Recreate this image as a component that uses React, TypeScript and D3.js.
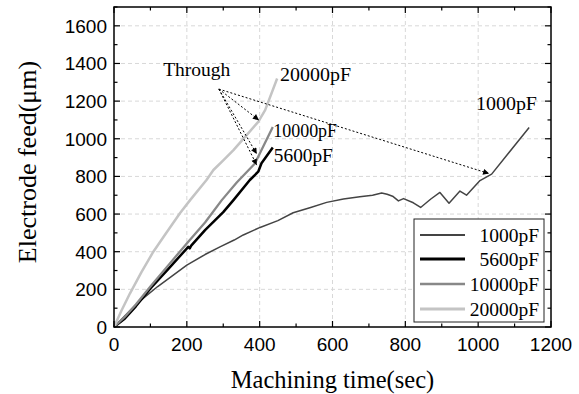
import React from "react";
import * as d3 from "d3";

const W = 579;
const H = 394;

// Data
const series1000: [number, number][] = [
  [0, 0], [20, 40], [40, 80], [60, 118], [80, 152], [120, 215], [160, 272], [200, 329],
  [250, 385], [291, 426], [330, 462], [355, 489], [401, 529], [450, 565], [492, 607],
  [540, 635], [584, 662], [630, 680], [675, 692], [710, 700], [735, 712], [750, 705],
  [765, 695], [781, 670], [795, 682], [822, 660], [842, 635], [870, 680], [895, 715],
  [920, 658], [950, 722], [968, 700], [1005, 778], [1037, 812], [1140, 1060],
];
const series5600: [number, number][] = [
  [0, 0], [30, 45], [60, 110], [100, 205], [150, 310], [204, 426], [208, 418], [212, 432],
  [250, 515], [300, 610], [328, 674], [373, 781], [396, 825], [405, 870], [436, 954],
];
const series10000: [number, number][] = [
  [0, 0], [30, 55], [60, 120], [100, 215], [150, 330], [204, 453], [250, 555], [296, 674],
  [337, 768], [387, 869], [400, 920], [436, 1062],
];
const series20000: [number, number][] = [
  [0, 0], [20, 85], [44, 179], [75, 290], [108, 400], [140, 490], [181, 604], [209, 674],
  [254, 781], [273, 834], [300, 885], [328, 940], [360, 1010], [396, 1090], [415, 1152],
  [448, 1320],
];

const legendLabels = ["1000pF", "5600pF", "10000pF", "20000pF"];
const xTicks = [0, 200, 400, 600, 800, 1000, 1200];
const yTicks = [0, 200, 400, 600, 800, 1000, 1200, 1400, 1600];
const xMinor = d3.range(0, 1201, 100);
const yMinor = d3.range(0, 1701, 100);

// Annotation anchors in data units
const throughOrigin: [number, number] = [288, 1264];
const arrowTips: [number, number][] = [[398, 1099], [392, 919], [392, 860], [1030, 815]];
const curveLabels: { text: string; x: number; y: number; len: number }[] = [
  { text: "20000pF", x: 456, y: 1306, len: 71 },
  { text: "10000pF", x: 437, y: 1009, len: 64 },
  { text: "5600pF", x: 439, y: 876, len: 59 },
  { text: "1000pF", x: 994, y: 1152, len: 61 },
];

const styles = [
  { color: "#444444", width: 1.5 },
  { color: "#000000", width: 2.5 },
  { color: "#888888", width: 2.3 },
  { color: "#c4c4c4", width: 2.5 },
];

export default function App() {
  const left = 114, right = 551, top = 7, bottom = 327;
  const x = d3.scaleLinear().domain([0, 1200]).range([left, right]);
  const y = d3.scaleLinear().domain([0, 1700]).range([bottom, top]);
  const line = d3.line<[number, number]>().x((d) => x(d[0])).y((d) => y(d[1]));
  const all = [series1000, series5600, series10000, series20000];

  const serif = "'Liberation Serif', 'Times New Roman', serif";
  const sans = "'Liberation Sans', Arial, sans-serif";

  const legRows = [235, 259, 284, 309];

  return (
    <div style={{ position: "fixed", left: 0, top: 0 }}>
      <svg width={W} height={H} style={{ display: "block", background: "#fff" }}>
        <defs>
          <marker id="ah" viewBox="0 0 10 10" refX="10" refY="5" markerWidth="9" markerHeight="6"
            markerUnits="userSpaceOnUse" orient="auto">
            <path d="M0,0 L10,5 L0,10 z" fill="#000" />
          </marker>
        </defs>
        <rect x={0} y={0} width={W} height={H} fill="#fff" />
        {/* grid */}
        {xTicks.filter((t) => t > 0 && t < 1200).map((t) => (
          <line key={"gx" + t} x1={x(t)} x2={x(t)} y1={top} y2={bottom} stroke="#d8d8d8" strokeWidth={1} strokeDasharray="4,3" />
        ))}
        {yTicks.filter((t) => t > 0).map((t) => (
          <line key={"gy" + t} x1={left} x2={right} y1={y(t)} y2={y(t)} stroke="#d8d8d8" strokeWidth={1} strokeDasharray="4,3" />
        ))}
        {/* curves */}
        {all.map((s, i) => (
          <path key={"s" + i} d={line(s) || ""} fill="none" stroke={styles[i].color} strokeWidth={styles[i].width} strokeLinejoin="round" />
        ))}
        {/* arrows */}
        {arrowTips.map((t, i) => (
          <line key={"ar" + i} x1={x(throughOrigin[0])} y1={y(throughOrigin[1])} x2={x(t[0])} y2={y(t[1])}
            stroke="#000" strokeWidth={1} strokeDasharray="2,2" markerEnd="url(#ah)" />
        ))}
        {/* frame */}
        <rect x={left} y={top} width={right - left} height={bottom - top} fill="none" stroke="#000" strokeWidth={1.5} />
        {/* ticks */}
        {xMinor.map((t) => {
          const major = t % 200 === 0;
          const len = major ? 6 : 3.5;
          return (
            <g key={"xt" + t}>
              <line x1={x(t)} x2={x(t)} y1={bottom} y2={bottom - len} stroke="#000" strokeWidth={1.2} />
              <line x1={x(t)} x2={x(t)} y1={top} y2={top + len} stroke="#000" strokeWidth={1.2} />
            </g>
          );
        })}
        {yMinor.map((t) => {
          const major = t % 200 === 0;
          const len = major ? 6 : 3.5;
          return (
            <g key={"yt" + t}>
              <line x1={left} x2={left + len} y1={y(t)} y2={y(t)} stroke="#000" strokeWidth={1.2} />
              <line x1={right} x2={right - len} y1={y(t)} y2={y(t)} stroke="#000" strokeWidth={1.2} />
            </g>
          );
        })}
        {/* tick labels */}
        {xTicks.map((t) => (
          <text key={"xl" + t} x={x(t)} y={bottom + 24} textAnchor="middle" fontFamily={sans} fontSize={19}>{t}</text>
        ))}
        {yTicks.map((t) => (
          <text key={"yl" + t} x={left - 7} y={y(t) + 7} textAnchor="end" fontFamily={sans} fontSize={19}>{t}</text>
        ))}
        {/* axis titles */}
        <text x={(left + right) / 2} y={388} textAnchor="middle" fontFamily={serif} fontSize={24.5}>Machining time(sec)</text>
        <text transform={`translate(36, ${162}) rotate(-90)`} textAnchor="middle" fontFamily={serif} fontSize={26}>Electrode feed(μm)</text>
        {/* annotations */}
        <text x={x(135)} y={y(1333)} fontFamily={serif} fontSize={19.5}>Through</text>
        {curveLabels.map((c) => (
          <text key={c.text} x={x(c.x)} y={y(c.y)} fontFamily={serif} fontSize={19.5} textLength={c.len} lengthAdjust="spacingAndGlyphs">{c.text}</text>
        ))}
        {/* legend */}
        <rect x={414} y={219} width={130} height={103} fill="#fff" stroke="#222" strokeWidth={1} />
        {legendLabels.map((l, i) => (
          <g key={"lg" + i}>
            <line x1={420} x2={465} y1={legRows[i]} y2={legRows[i]} stroke={styles[i].color} strokeWidth={styles[i].width + 0.3} />
            <text x={539} y={legRows[i] + 6.5} textAnchor="end" fontFamily={serif} fontSize={19.5}>{l}</text>
          </g>
        ))}
      </svg>
    </div>
  );
}
